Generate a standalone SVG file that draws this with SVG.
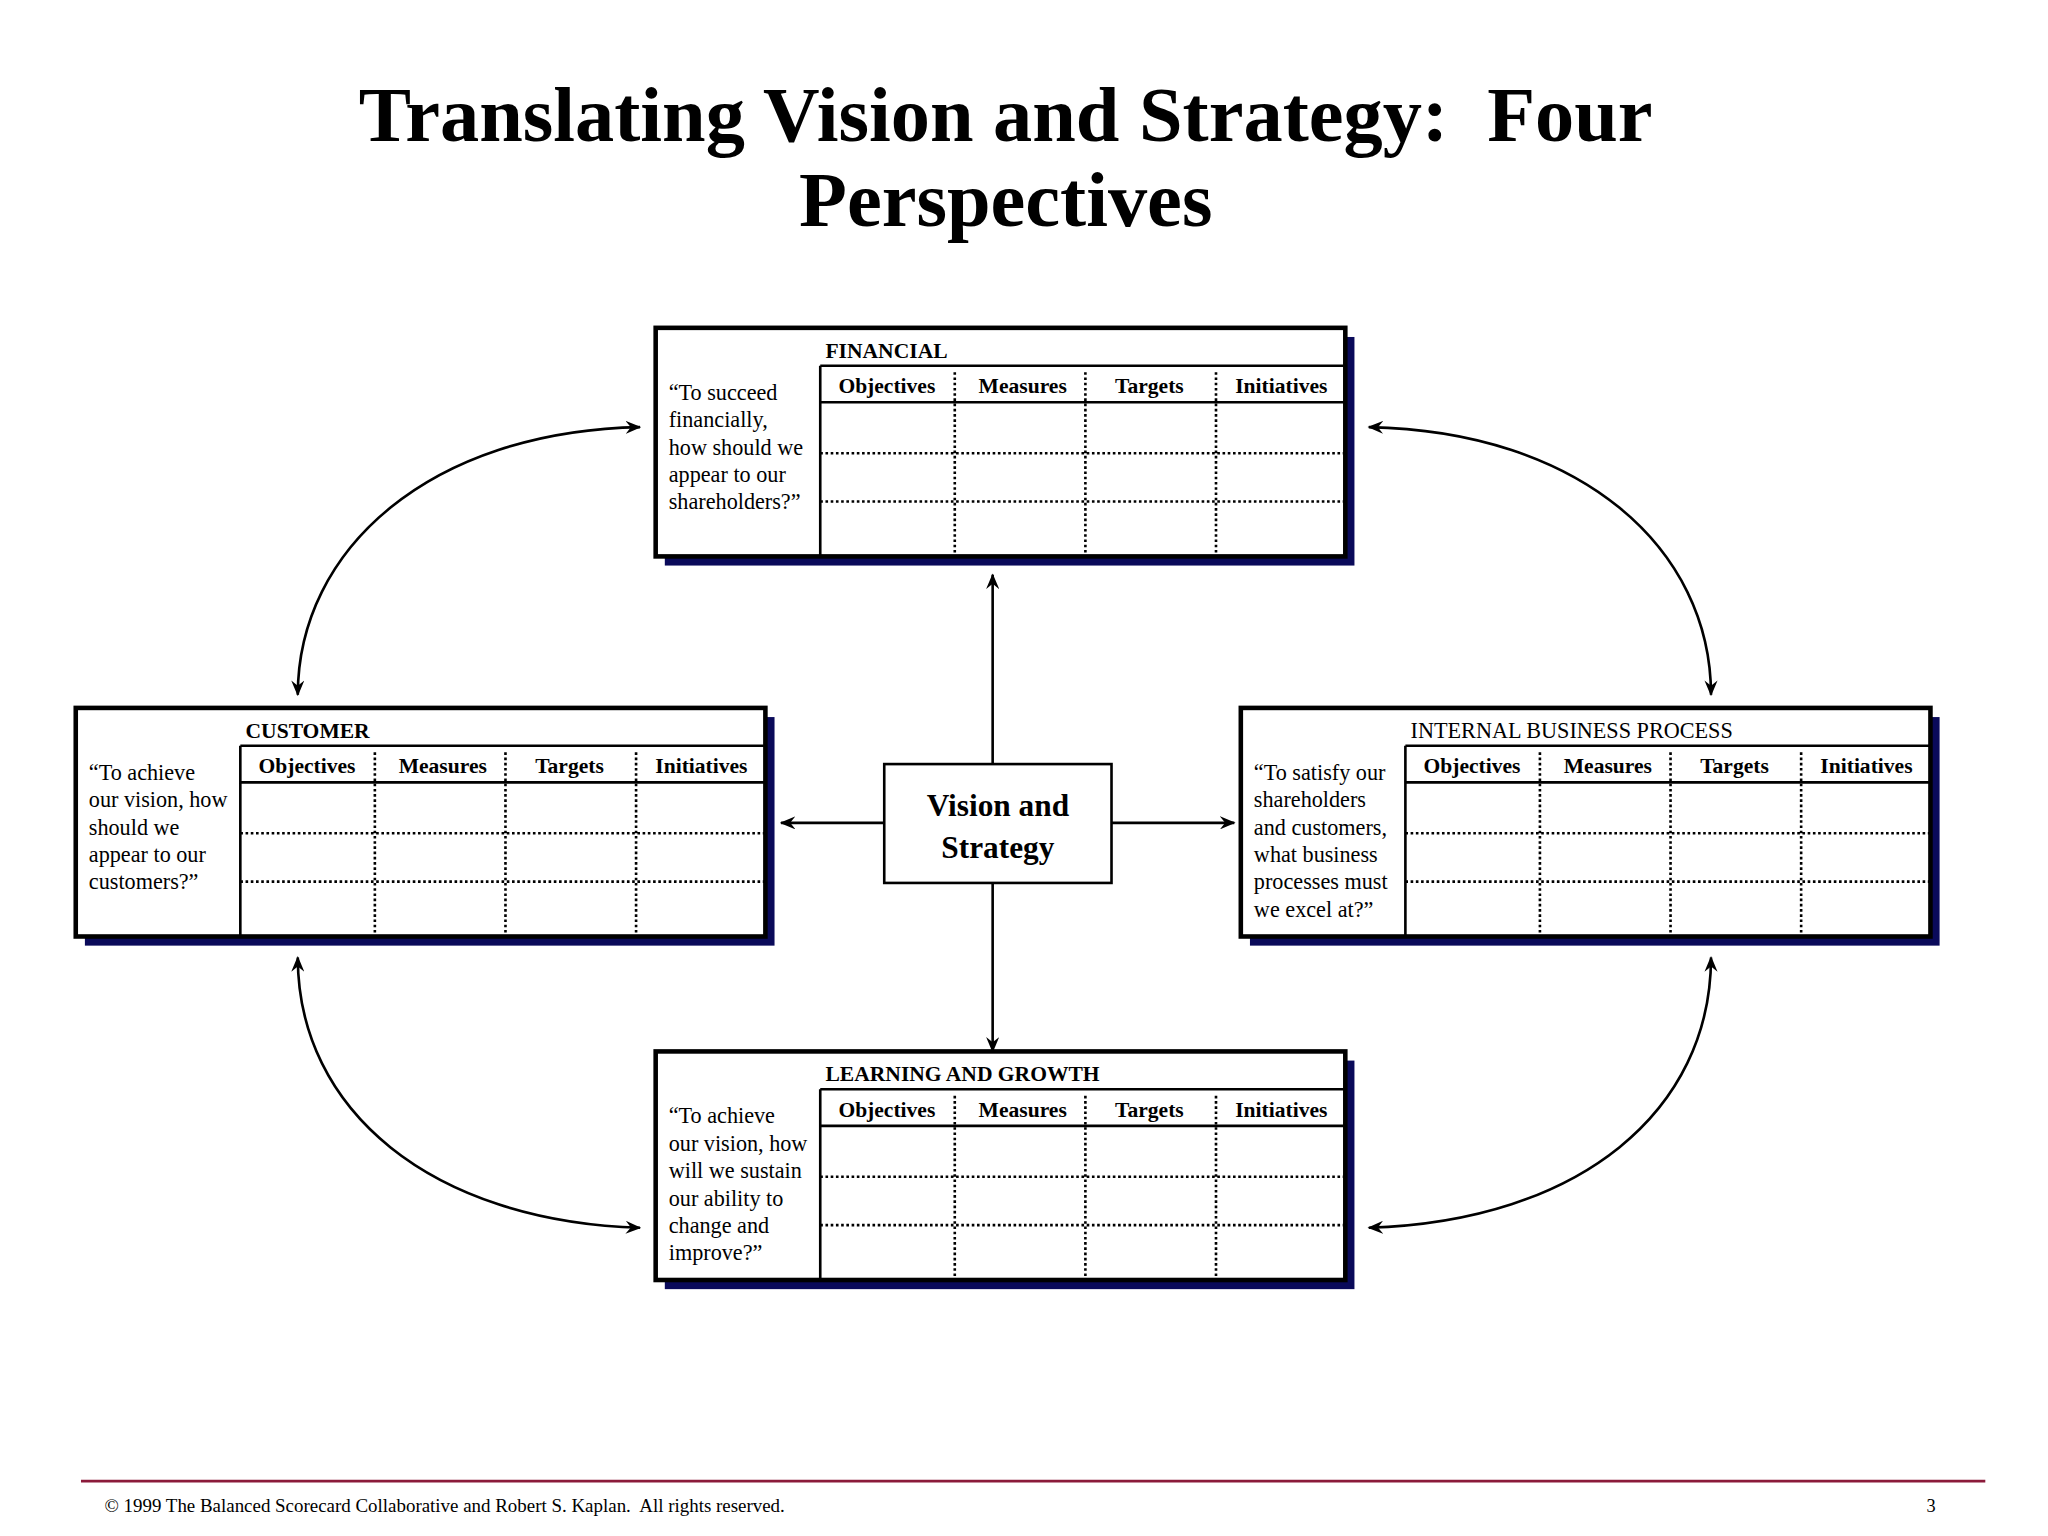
<svg xmlns="http://www.w3.org/2000/svg" width="2048" height="1536" viewBox="0 0 2048 1536">
<style>
text{font-family:"Liberation Serif","Times New Roman",serif;fill:#000;white-space:pre}
.title{font-size:60px;font-weight:bold;text-anchor:middle}
.hd{font-size:16.5px;font-weight:bold}
.col{font-size:16.5px;font-weight:bold;text-anchor:middle}
.q{font-size:17px}
.shadow{fill:#0a0a5a}
.frame{fill:#fff;stroke:#000;stroke-width:3.5}
.solid{stroke:#000;stroke-width:2;fill:none}
.dot{stroke:#000;stroke-width:2;stroke-dasharray:2 2;fill:none}
.conn{stroke:#000;stroke-width:2;fill:none;marker-end:url(#ah)}
.conn2{stroke:#000;stroke-width:2;fill:none;marker-end:url(#ah);marker-start:url(#as)}
</style>
<defs>
<marker id="ah" viewBox="0 0 12 10" refX="11" refY="5" markerWidth="12" markerHeight="10" markerUnits="userSpaceOnUse" orient="auto">
<path d="M0,0 L12,5 L0,10 L4,5 Z" fill="#000"/></marker>
<marker id="as" viewBox="0 0 12 10" refX="1" refY="5" markerWidth="12" markerHeight="10" markerUnits="userSpaceOnUse" orient="auto">
<path d="M12,0 L0,5 L12,10 L8,5 Z" fill="#000"/></marker>
<g id="grid">
<rect class="shadow" x="7" y="7" width="528" height="175"/>
<rect class="frame" x="0" y="0" width="528" height="175"/>
<path class="solid" d="M126 29 H528 M126 29 V175 M126 57 H528"/>
<path class="dot" d="M126 96 H528 M126 133 H528 M229 34 V175 M329 34 V175 M429 34 V175"/>
<text class="col" x="177" y="50">Objectives</text>
<text class="col" x="281" y="50">Measures</text>
<text class="col" x="378" y="50">Targets</text>
<text class="col" x="479" y="50">Initiatives</text>
</g>
</defs>
<rect width="2048" height="1536" fill="#fff"/>
<g transform="scale(1.306122)">
<g id="title">
<text class="title" x="770" y="108">Translating Vision and Strategy:  Four</text>
<text class="title" x="770" y="173">Perspectives</text>
</g>
<g id="connectors">
<path class="conn" d="M760 585 V440"/>
<path class="conn" d="M760 676 V805"/>
<path class="conn" d="M677 630 H598"/>
<path class="conn" d="M851 630 H945"/>
<path class="conn2" d="M228 532 C228 420 330 330 490 327"/>
<path class="conn2" d="M1048 327 C1210 330 1310 420 1310 532"/>
<path class="conn2" d="M228 733 C228 850 330 935 490 940"/>
<path class="conn2" d="M1310 733 C1310 850 1210 935 1048 940"/>
</g>
<g id="financial" transform="translate(502,251)">
<use href="#grid"/>
<text class="hd" x="130" y="23">FINANCIAL</text>
<text class="q" x="10" y="55">“To succeed</text><text class="q" x="10" y="76">financially,</text><text class="q" x="10" y="97">how should we</text><text class="q" x="10" y="118">appear to our</text><text class="q" x="10" y="139">shareholders?”</text>
</g>
<g id="customer" transform="translate(58,542)">
<use href="#grid"/>
<text class="hd" x="130" y="23">CUSTOMER</text>
<text class="q" x="10" y="55">“To achieve</text><text class="q" x="10" y="76">our vision, how</text><text class="q" x="10" y="97">should we</text><text class="q" x="10" y="118">appear to our</text><text class="q" x="10" y="139">customers?”</text>
</g>
<g id="internal" transform="translate(950,542)">
<use href="#grid"/>
<text class="q" x="130" y="23">INTERNAL BUSINESS PROCESS</text>
<text class="q" x="10" y="55">“To satisfy our</text><text class="q" x="10" y="76">shareholders</text><text class="q" x="10" y="97">and customers,</text><text class="q" x="10" y="118">what business</text><text class="q" x="10" y="139">processes must</text><text class="q" x="10" y="160">we excel at?”</text>
</g>
<g id="learning" transform="translate(502,805)">
<use href="#grid"/>
<text class="hd" x="130" y="23">LEARNING AND GROWTH</text>
<text class="q" x="10" y="55">“To achieve</text><text class="q" x="10" y="76">our vision, how</text><text class="q" x="10" y="97">will we sustain</text><text class="q" x="10" y="118">our ability to</text><text class="q" x="10" y="139">change and</text><text class="q" x="10" y="160">improve?”</text>
</g>
<g id="vision">
<rect x="677" y="585" width="174" height="91" fill="#fff" stroke="#000" stroke-width="2"/>
<text x="764" y="625" style="font-size:24px;font-weight:bold;text-anchor:middle">Vision and</text>
<text x="764" y="657" style="font-size:24px;font-weight:bold;text-anchor:middle">Strategy</text>
</g>
<g id="footer">
<path d="M62 1134 H1520" stroke="#8b1a3a" stroke-width="2"/>
<text x="80" y="1158" style="font-size:14.5px">© 1999 The Balanced Scorecard Collaborative and Robert S. Kaplan.  All rights reserved.</text>
<text x="1475" y="1158" style="font-size:14px">3</text>
</g>
</g>
</svg>
